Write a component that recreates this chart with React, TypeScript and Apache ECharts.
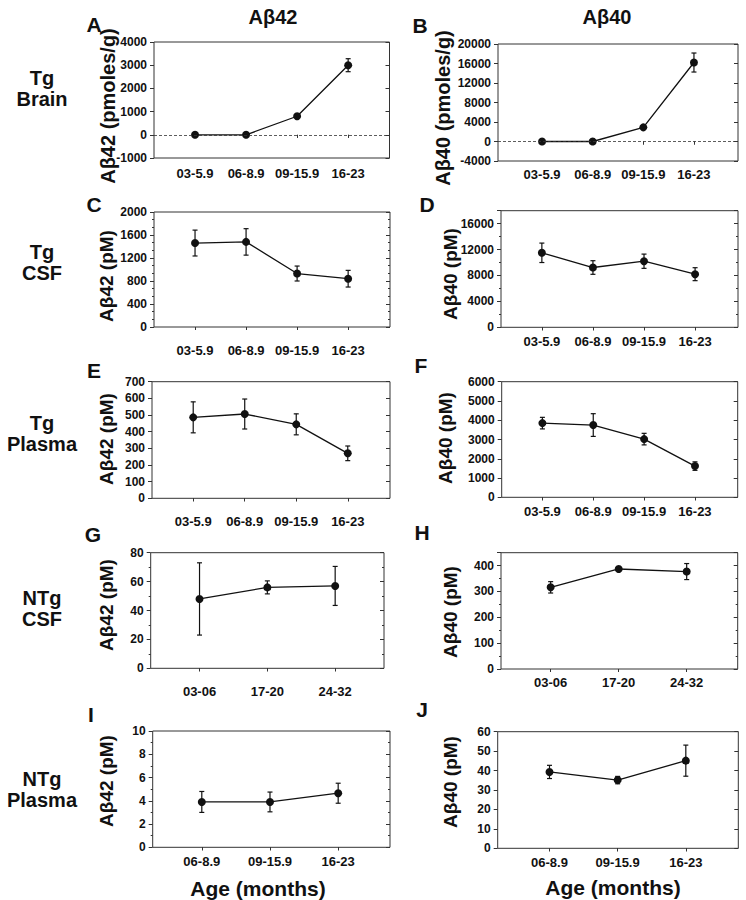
import React, { useEffect, useRef } from "react";
import * as echarts from "echarts";

// ---- categories ----
const TG_AGES = ["03-5.9", "06-8.9", "09-15.9", "16-23"];
const NTG_CSF_AGES = ["03-06", "17-20", "24-32"];
const NTG_PLASMA_AGES = ["06-8.9", "09-15.9", "16-23"];

// ---- series values (mean) and error (+/-) ----
const tgBrainAb42 = [0, 0, 800, 3000];
const tgBrainAb42Err = [0, 0, 50, 280];
const tgBrainAb40 = [0, 0, 2900, 16200];
const tgBrainAb40Err = [0, 0, 150, 1950];
const tgCsfAb42 = [1460, 1480, 930, 840];
const tgCsfAb42Err = [225, 230, 130, 145];
const tgCsfAb40 = [11500, 9230, 10200, 8200];
const tgCsfAb40Err = [1500, 1050, 1100, 1000];
const tgPlasmaAb42 = [486, 506, 444, 270];
const tgPlasmaAb42Err = [93, 90, 63, 44];
const tgPlasmaAb40 = [3850, 3750, 3020, 1620];
const tgPlasmaAb40Err = [300, 590, 300, 220];
const ntgCsfAb42 = [48, 56, 57];
const ntgCsfAb42Err = [25, 4.5, 13.5];
const ntgCsfAb40 = [316, 387, 377];
const ntgCsfAb40Err = [22, 5, 31];
const ntgPlasmaAb42 = [3.9, 3.9, 4.65];
const ntgPlasmaAb42Err = [0.9, 0.85, 0.86];
const ntgPlasmaAb40 = [39.3, 35.1, 45.1];
const ntgPlasmaAb40Err = [3.4, 1.9, 8];

// ---- labels ----
const COLUMN_TITLES = ["Aβ42", "Aβ40"];
const ROW_LABELS = ["Tg\nBrain", "Tg\nCSF", "Tg\nPlasma", "NTg\nCSF", "NTg\nPlasma"];
const X_TITLE = "Age (months)";

const FONT = '"Liberation Sans", Arial, Helvetica, sans-serif';
const INK = "#111";
const FRAME = "#333";

type Panel = {
  letter: string;
  yName: string;
  cats: string[];
  vals: number[];
  errs: number[];
  grid: [number, number, number, number];
  xMin: number;
  xMax: number;
  yMin: number;
  yMax: number;
  yInt: number;
  minor: number;
  zero: boolean;
  xMargin: number;
  hideMax: boolean;
  letterPos: [number, number];
  namePos: [number, number];
  nameSize: number;
};

const panels: Panel[] = [
  { letter: "A", yName: "Aβ42 (pmoles/g)", cats: TG_AGES, vals: tgBrainAb42, errs: tgBrainAb42Err,
    grid: [154, 42, 235.5, 116], xMin: 0.196, xMax: 4.81, yMin: -1000, yMax: 4000, yInt: 1000, minor: 0,
    zero: true, xMargin: 9, hideMax: false, letterPos: [94, 24], namePos: [108, 106], nameSize: 20 },
  { letter: "B", yName: "Aβ40 (pmoles/g)", cats: TG_AGES, vals: tgBrainAb40, errs: tgBrainAb40Err,
    grid: [498, 44, 240, 117], xMin: 0.13, xMax: 4.87, yMin: -4000, yMax: 20000, yInt: 4000, minor: 0,
    zero: true, xMargin: 7, hideMax: false, letterPos: [420, 25], namePos: [443, 108], nameSize: 20 },
  { letter: "C", yName: "Aβ42 (pM)", cats: TG_AGES, vals: tgCsfAb42, errs: tgCsfAb42Err,
    grid: [154, 212, 236, 115], xMin: 0.196, xMax: 4.82, yMin: 0, yMax: 2000, yInt: 400, minor: 3,
    zero: false, xMargin: 17, hideMax: false, letterPos: [94, 204], namePos: [106, 276], nameSize: 19 },
  { letter: "D", yName: "Aβ40 (pM)", cats: TG_AGES, vals: tgCsfAb40, errs: tgCsfAb40Err,
    grid: [501, 210.7, 237, 116.6], xMin: 0.2, xMax: 4.84, yMin: 0, yMax: 18000, yInt: 4000, minor: 2,
    zero: false, xMargin: 8, hideMax: true, letterPos: [427, 204], namePos: [450, 274], nameSize: 19 },
  { letter: "E", yName: "Aβ42 (pM)", cats: TG_AGES, vals: tgPlasmaAb42, errs: tgPlasmaAb42Err,
    grid: [152, 381.7, 238, 116.6], xMin: 0.2, xMax: 4.82, yMin: 0, yMax: 700, yInt: 100, minor: 0,
    zero: false, xMargin: 17, hideMax: false, letterPos: [94, 370], namePos: [106, 439], nameSize: 19 },
  { letter: "F", yName: "Aβ40 (pM)", cats: TG_AGES, vals: tgPlasmaAb40, errs: tgPlasmaAb40Err,
    grid: [501.7, 381.7, 236, 115.6], xMin: 0.2, xMax: 4.84, yMin: 0, yMax: 6000, yInt: 1000, minor: 0,
    zero: false, xMargin: 8, hideMax: false, letterPos: [421, 365], namePos: [445, 438], nameSize: 19 },
  { letter: "G", yName: "Aβ42 (pM)", cats: NTG_CSF_AGES, vals: ntgCsfAb42, errs: ntgCsfAb42Err,
    grid: [150.7, 552.7, 233.3, 115.6], xMin: 0.28, xMax: 3.72, yMin: 0, yMax: 80, yInt: 20, minor: 2,
    zero: false, xMargin: 17, hideMax: false, letterPos: [93, 534], namePos: [106, 605], nameSize: 19 },
  { letter: "H", yName: "Aβ40 (pM)", cats: NTG_CSF_AGES, vals: ntgCsfAb40, errs: ntgCsfAb40Err,
    grid: [501, 552.7, 236.7, 116.3], xMin: 0.27, xMax: 3.75, yMin: 0, yMax: 450, yInt: 100, minor: 2,
    zero: false, xMargin: 7, hideMax: true, letterPos: [422, 532], namePos: [450, 612], nameSize: 19 },
  { letter: "I", yName: "Aβ42 (pM)", cats: NTG_PLASMA_AGES, vals: ntgPlasmaAb42, errs: ntgPlasmaAb42Err,
    grid: [152.7, 731, 237.3, 116.3], xMin: 0.28, xMax: 3.76, yMin: 0, yMax: 10, yInt: 2, minor: 2,
    zero: false, xMargin: 8, hideMax: false, letterPos: [91, 714], namePos: [106, 781], nameSize: 19 },
  { letter: "J", yName: "Aβ40 (pM)", cats: NTG_PLASMA_AGES, vals: ntgPlasmaAb40, errs: ntgPlasmaAb40Err,
    grid: [497.7, 731.7, 240.6, 116.6], xMin: 0.24, xMax: 3.77, yMin: 0, yMax: 60, yInt: 10, minor: 0,
    zero: false, xMargin: 8, hideMax: false, letterPos: [422, 709], namePos: [450, 782], nameSize: 19 },
];

function buildOption() {
  const grid: any[] = [];
  const xAxis: any[] = [];
  const yAxis: any[] = [];
  const series: any[] = [];
  const graphic: any[] = [];

  panels.forEach((p, i) => {
    const [l, t, w, h] = p.grid;
    grid.push({ left: l, top: t, width: w, height: h, show: true, borderColor: FRAME, borderWidth: 1,
      backgroundColor: "transparent", containLabel: false });
    const positions = p.cats.map((_, k) => k + 1);
    const tickStyle = { color: FRAME, width: 1 };
    xAxis.push({
      gridIndex: i, type: "value", min: p.xMin, max: p.xMax, position: "bottom",
      axisLine: { show: false }, splitLine: { show: false },
      axisTick: { show: true, customValues: positions, length: 3, lineStyle: tickStyle },
      axisLabel: { show: true, customValues: positions, margin: p.xMargin,
        formatter: (v: number) => p.cats[Math.round(v) - 1] ?? "",
        fontSize: 13, fontWeight: "bold", color: INK, fontFamily: FONT },
    });
    xAxis.push({
      gridIndex: i, type: "value", min: p.xMin, max: p.xMax, position: "top",
      axisLine: { show: false }, splitLine: { show: false },
      axisTick: { show: true, inside: true, customValues: positions, length: 3, lineStyle: tickStyle },
      axisLabel: { show: false },
    });
    const minorTick = p.minor
      ? { show: true, splitNumber: p.minor, length: 2, lineStyle: { color: FRAME, width: 1 } }
      : { show: false };
    yAxis.push({
      gridIndex: i, type: "value", min: p.yMin, max: p.yMax, interval: p.yInt, position: "left",
      axisLine: { show: false }, splitLine: { show: false }, minorSplitLine: { show: false },
      axisTick: { show: true, length: 4, lineStyle: tickStyle }, minorTick,
      axisLabel: { margin: 7, fontSize: 12, fontWeight: "bold", color: INK, fontFamily: FONT,
        formatter: (v: number) => String(v),
        showMaxLabel: p.hideMax ? false : true },
    });
    yAxis.push({
      gridIndex: i, type: "value", min: p.yMin, max: p.yMax, interval: p.yInt, position: "right",
      axisLine: { show: false }, splitLine: { show: false }, minorSplitLine: { show: false },
      axisTick: { show: true, inside: true, length: 4, lineStyle: tickStyle },
      minorTick: p.minor ? { ...minorTick } : { show: false },
      axisLabel: { show: false },
    });

    const xi = i * 2;
    const yi = i * 2;
    series.push({
      type: "custom",
      xAxisIndex: xi, yAxisIndex: yi, z: 2,
      data: p.vals.map((v, k) => [k + 1, v - p.errs[k], v + p.errs[k]]),
      encode: { x: 0, y: [1, 2] },
      renderItem: (params: any, api: any) => {
        const x = api.value(0);
        const lo = api.coord([x, api.value(1)]);
        const hi = api.coord([x, api.value(2)]);
        const cw = 2.5;
        const st = { stroke: INK, lineWidth: 1.2 };
        return {
          type: "group",
          children: [
            { type: "line", shape: { x1: lo[0], y1: lo[1], x2: hi[0], y2: hi[1] }, style: st },
            { type: "line", shape: { x1: lo[0] - cw, y1: lo[1], x2: lo[0] + cw, y2: lo[1] }, style: st },
            { type: "line", shape: { x1: hi[0] - cw, y1: hi[1], x2: hi[0] + cw, y2: hi[1] }, style: st },
          ],
        };
      },
      silent: true,
    });
    const lineSeries: any = {
      type: "line",
      xAxisIndex: xi, yAxisIndex: yi, z: 3,
      data: p.vals.map((v, k) => [k + 1, v]),
      symbol: "circle", symbolSize: 8,
      itemStyle: { color: INK, borderWidth: 0 },
      lineStyle: { color: INK, width: 1.3 },
      silent: true,
    };
    if (p.zero) {
      lineSeries.markLine = {
        silent: true, symbol: "none", animation: false,
        label: { show: false },
        lineStyle: { color: "#333", width: 0.8, type: [3, 2] },
        data: [{ yAxis: 0 }],
      };
    }
    series.push(lineSeries);

    graphic.push({
      type: "text", x: p.letterPos[0], y: p.letterPos[1],
      style: { text: p.letter, fontSize: 21, fontWeight: "bold", fontFamily: FONT, fill: INK,
        align: "center", verticalAlign: "middle" },
    });
    graphic.push({
      type: "text", x: p.namePos[0], y: p.namePos[1], rotation: Math.PI / 2,
      style: { text: p.yName, fontSize: p.nameSize, fontWeight: "bold", fontFamily: FONT, fill: INK,
        align: "center", verticalAlign: "middle" },
    });
  });

  // column titles
  const titlePos = [[273, 17], [607, 17]];
  COLUMN_TITLES.forEach((t, k) => {
    graphic.push({
      type: "text", x: titlePos[k][0], y: titlePos[k][1],
      style: { text: t, fontSize: 20, fontWeight: "bold", fontFamily: FONT, fill: INK,
        align: "center", verticalAlign: "middle" },
    });
  });

  // row labels (two-line blocks)
  const rowY = [88.5, 262.7, 433, 608.7, 789];
  ROW_LABELS.forEach((txt, r) => {
    graphic.push({
      type: "text", x: 42, y: rowY[r],
      style: { text: txt, fontSize: 20, lineHeight: 21, fontWeight: "bold", fontFamily: FONT, fill: INK,
        align: "center", verticalAlign: "middle" },
    });
  });

  // x-axis titles
  [[258, 888], [613, 887]].forEach(([x, y]) => {
    graphic.push({
      type: "text", x, y,
      style: { text: X_TITLE, fontSize: 21, fontWeight: "bold", fontFamily: FONT, fill: INK,
        align: "center", verticalAlign: "middle" },
    });
  });

  return {
    animation: false,
    backgroundColor: "#ffffff",
    textStyle: { fontFamily: FONT },
    grid, xAxis, yAxis, series, graphic,
  };
}

export default function App() {
  const ref = useRef<HTMLDivElement>(null);
  useEffect(() => {
    if (!ref.current) return;
    const chart = echarts.init(ref.current, undefined, { renderer: "svg" });
    chart.setOption(buildOption());
    return () => chart.dispose();
  }, []);
  return (
    <div
      ref={ref}
      style={{ position: "absolute", left: 0, top: 0, width: 746, height: 900, background: "#fff" }}
    />
  );
}
